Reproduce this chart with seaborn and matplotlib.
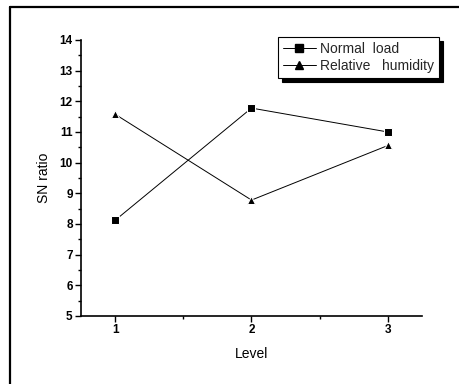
import matplotlib
matplotlib.use("Agg")
import matplotlib.pyplot as plt
import seaborn as sns
import pandas as pd
from matplotlib.lines import Line2D
from matplotlib.ticker import MultipleLocator

levels = [1, 2, 3]
normal_load = [8.12, 11.78, 11.0]
relative_humidity = [11.58, 8.78, 10.56]
series_names = ["Normal  load", "Relative   humidity"]

df = pd.DataFrame({
    "Level": levels * 2,
    "SN ratio": normal_load + relative_humidity,
    "Series": [series_names[0]] * 3 + [series_names[1]] * 3,
})

sns.set_theme(style="ticks")
plt.rcParams["font.family"] = ["Liberation Sans", "DejaVu Sans"]

fig = plt.figure(figsize=(4.6, 3.84), dpi=100)
ax = fig.add_axes([81/460, 1 - 316/384, (422 - 81)/460, (316 - 40)/384])

sns.lineplot(data=df, x="Level", y="SN ratio", hue="Series", style="Series",
             markers={series_names[0]: "s", series_names[1]: "^"},
             dashes=False, palette=["black", "black"], linewidth=0.7,
             markersize=6, ax=ax, legend=False)

ax.set_xlim(0.75, 3.25)
ax.set_ylim(5, 14)
ax.set_xticks(levels)
ax.set_yticks(range(5, 15))
ax.xaxis.set_minor_locator(MultipleLocator(0.5))
ax.yaxis.set_minor_locator(MultipleLocator(0.5))
ax.tick_params(axis="both", which="major", length=4, width=1, labelsize=8.5, color="black", labelcolor="black", pad=2)
ax.tick_params(axis="both", which="minor", length=2, width=1, color="black")
for lbl in ax.get_xticklabels() + ax.get_yticklabels():
    lbl.set_fontweight("bold")
ax.set_xlabel("Level", fontsize=10, color="black", labelpad=8)
ax.set_ylabel("SN ratio", fontsize=10, color="black", labelpad=6)
for s in ["top", "right"]:
    ax.spines[s].set_visible(False)
for s in ["left", "bottom"]:
    ax.spines[s].set_color("black")
    ax.spines[s].set_linewidth(1.2)

handles = [
    Line2D([], [], color="black", marker="s", markersize=6, linewidth=0.7),
    Line2D([], [], color="black", marker="^", markersize=6, linewidth=0.7),
]
leg = ax.legend(handles, series_names, loc="upper right", bbox_to_anchor=(1.05, 1.01),
                frameon=True, fancybox=False,
                shadow={"color": "black", "alpha": 1, "ox": 3, "oy": -3},
                fontsize=10, handlelength=2.4, borderpad=0.35, labelspacing=0.2,
                handletextpad=0.3, borderaxespad=0)
leg.get_frame().set_edgecolor("black")
leg.get_frame().set_linewidth(0.8)

# outer frame
fig.add_artist(Line2D([10.5/460, 1.0], [1 - 6.5/384, 1 - 6.5/384], color="black", linewidth=1.6, transform=fig.transFigure))
fig.add_artist(Line2D([10.5/460, 10.5/460], [0, 1 - 6.5/384], color="black", linewidth=1.6, transform=fig.transFigure))

fig.savefig("out.png", dpi=100)
